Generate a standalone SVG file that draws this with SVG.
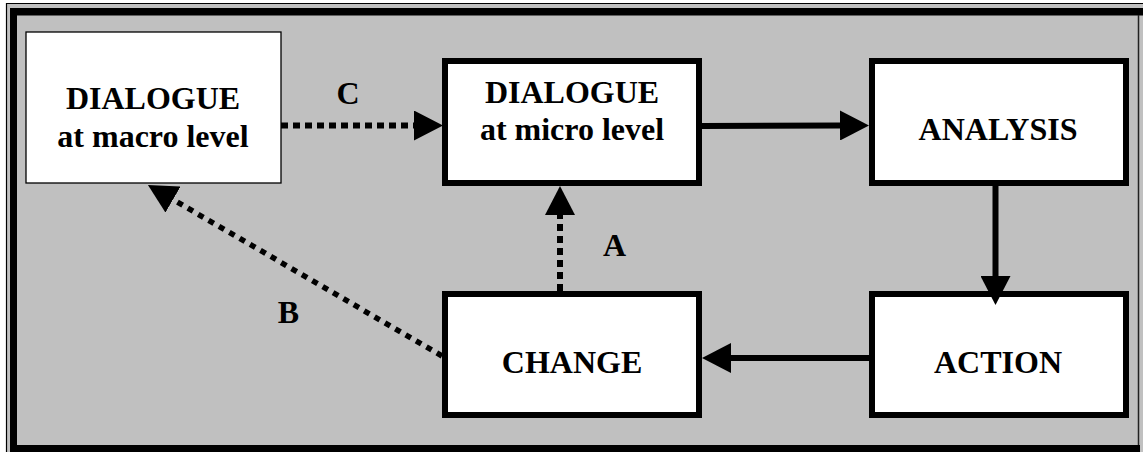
<svg xmlns="http://www.w3.org/2000/svg" width="1143" height="452" viewBox="0 0 1143 452">
  <style>
    .box { fill: #ffffff; stroke: #000000; stroke-width: 6; }
    .thinbox { fill: #ffffff; stroke: #000000; stroke-width: 1.3; }
    .lbl { font-family: 'Liberation Serif', 'Times New Roman', serif; font-weight: bold; font-size: 32px; fill: #000000; text-anchor: middle; }
    .solid { fill: none; stroke: #000000; stroke-width: 6; }
    .dotted { fill: none; stroke: #000000; stroke-width: 6; stroke-dasharray: 7 5; }
    .dottedb { fill: none; stroke: #000000; stroke-width: 5.5; stroke-dasharray: 6 6; }
  </style>
  <defs>
    <marker id="ah" markerUnits="userSpaceOnUse" markerWidth="30" markerHeight="30" refX="0" refY="15" orient="auto" viewBox="0 0 30 30">
      <path d="M0,0 L29,15 L0,30 Z" fill="#000000"/>
    </marker>
  </defs>

  <!-- frame -->
  <g id="frame">
    <rect x="0" y="0" width="1143" height="452" fill="#ffffff"/>
    <rect x="6" y="3" width="1137" height="449" fill="#c0c0c0"/>
    <line x1="6" y1="3.5" x2="1143" y2="3.5" stroke="#000" stroke-width="1.2"/>
    <line x1="6.5" y1="3" x2="6.5" y2="452" stroke="#000" stroke-width="1.2"/>
    <rect x="10" y="8" width="1133" height="7.5" fill="#000"/>
    <rect x="10" y="8" width="7" height="444" fill="#000"/>
    <rect x="10" y="445" width="1130" height="7" fill="#000"/>
    <line x1="1138.5" y1="15" x2="1138.5" y2="445" stroke="#222" stroke-width="1.5"/>
  </g>

  <!-- nodes -->
  <g id="macro">
    <rect class="thinbox" x="26" y="32" width="255" height="151"/>
    <text class="lbl" x="153" y="109">DIALOGUE</text>
    <text class="lbl" x="153" y="147">at macro level</text>
  </g>
  <g id="micro">
    <rect class="box" x="445" y="61" width="254" height="122"/>
    <text class="lbl" x="572" y="103">DIALOGUE</text>
    <text class="lbl" x="572" y="140">at micro level</text>
  </g>
  <g id="analysis">
    <rect class="box" x="872" y="61" width="254" height="122"/>
    <text class="lbl" x="998" y="140">ANALYSIS</text>
  </g>
  <g id="change">
    <rect class="box" x="445" y="294" width="254" height="121"/>
    <text class="lbl" x="572" y="373">CHANGE</text>
  </g>
  <g id="action">
    <rect class="box" x="872" y="294" width="254" height="121"/>
    <text class="lbl" x="998" y="373">ACTION</text>
  </g>

  <!-- connectors -->
  <g id="connectors">
    <path class="dotted" d="M281,125.5 L414,125.5" marker-end="url(#ah)"/>
    <path class="solid" d="M702,126 L840,125.5" marker-end="url(#ah)"/>
    <path class="solid" d="M995.5,186 L995.5,276" marker-end="url(#ah)"/>
    <path class="solid" d="M869,358 L731,358" marker-end="url(#ah)"/>
    <path class="dotted" d="M560,291 L560,215" marker-end="url(#ah)"/>
    <path class="dottedb" d="M442,356 L173,199.6" marker-end="url(#ah)"/>
  </g>

  <!-- connector labels -->
  <g id="labels">
    <text class="lbl" x="348" y="104">C</text>
    <text class="lbl" x="614.5" y="256">A</text>
    <text class="lbl" x="288.5" y="323">B</text>
  </g>
</svg>
